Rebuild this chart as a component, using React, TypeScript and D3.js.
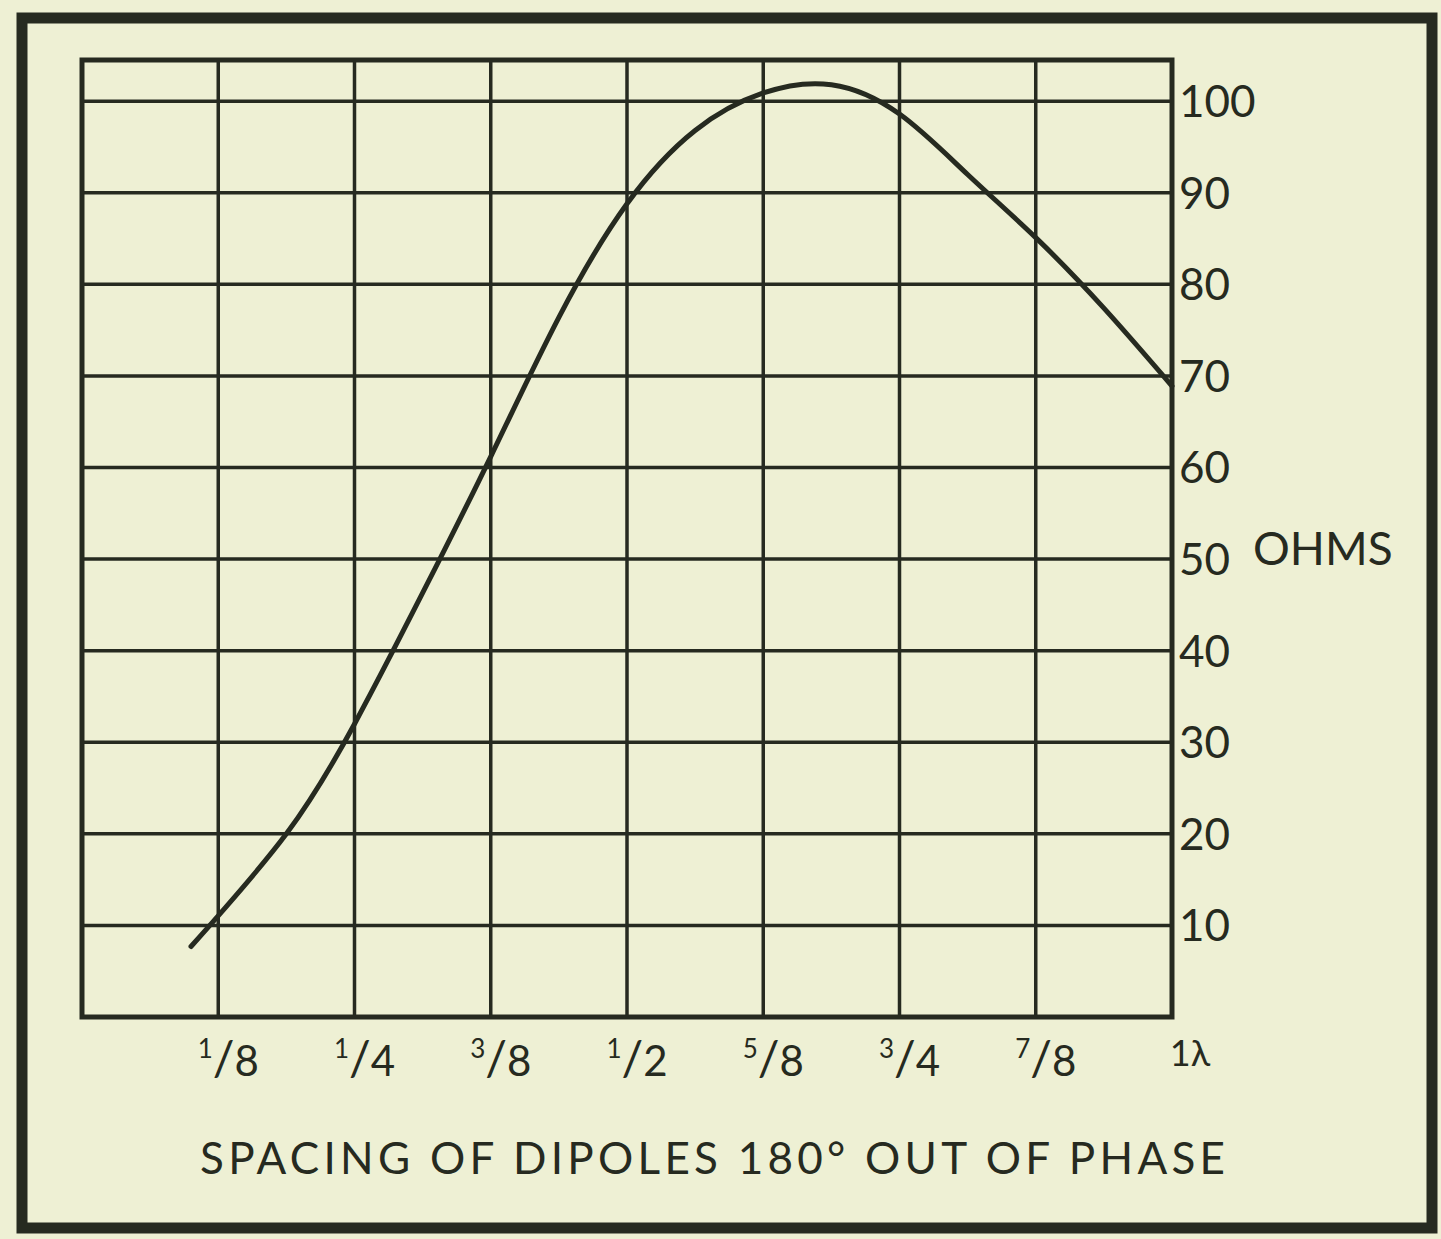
import * as d3 from "d3";
import { useEffect, useRef } from "react";

// spacing in wavelengths vs. radiation resistance in ohms
const spacing = [0.1, 0.1875, 0.25, 0.3125, 0.375, 0.4375, 0.5, 0.5625, 0.625, 0.6875, 0.75, 0.8125, 0.875, 0.9375, 1.0];
const ohms = [7.7, 20.0, 32.0, 46.3, 61.2, 76.4, 88.8, 96.8, 100.9, 101.8, 98.6, 92.0, 85.1, 77.4, 68.9];

const xTicks = [0.125, 0.25, 0.375, 0.5, 0.625, 0.75, 0.875, 1];
const xTickNum = ["1", "1", "3", "1", "5", "3", "7", ""];
const xTickDen = ["8", "4", "8", "2", "8", "4", "8", ""];
const yTicks = [10, 20, 30, 40, 50, 60, 70, 80, 90, 100];

const W = 1441, H = 1239;
const bg = "#eef0d4";
const ink = "#262a20";
const font = "Lato, 'DejaVu Sans', sans-serif";

export default function App() {
    const svgRef = useRef(null);

    useEffect(() => {
        const svg = d3.select(svgRef.current);
        svg.selectAll("*").remove();

        const x = d3.scaleLinear().domain([0, 1]).range([82, 1172]);
        const y = d3.scaleLinear().domain([0, 104.5]).range([1017, 60]);

        svg.append("rect").attr("width", W).attr("height", H).attr("fill", bg);

        // outer frame
        svg.append("rect")
            .attr("x", 22).attr("y", 18)
            .attr("width", 1410).attr("height", 1210)
            .attr("fill", "none").attr("stroke", ink).attr("stroke-width", 11);

        const g = svg.append("g");

        // grid
        g.selectAll(".vgrid").data(xTicks.slice(0, -1)).join("line")
            .attr("x1", d => x(d)).attr("x2", d => x(d))
            .attr("y1", y.range()[1]).attr("y2", y.range()[0])
            .attr("stroke", ink).attr("stroke-width", 3.5);
        g.selectAll(".hgrid").data(yTicks).join("line")
            .attr("x1", x(0)).attr("x2", x(1))
            .attr("y1", d => y(d)).attr("y2", d => y(d))
            .attr("stroke", ink).attr("stroke-width", 3.5);

        // plot border
        g.append("rect")
            .attr("x", x(0)).attr("y", y.range()[1])
            .attr("width", x(1) - x(0)).attr("height", y.range()[0] - y.range()[1])
            .attr("fill", "none").attr("stroke", ink).attr("stroke-width", 5);

        // curve
        const line = d3.line<number>()
            .x((d, i) => x(spacing[i]))
            .y(d => y(d))
            .curve(d3.curveNatural);
        g.append("path")
            .attr("d", line(ohms))
            .attr("fill", "none").attr("stroke", ink).attr("stroke-width", 5)
            .attr("stroke-linecap", "round");

        // y labels on the right
        g.selectAll(".ylab").data(yTicks).join("text")
            .attr("x", x(1) + 7).attr("y", d => y(d))
            .attr("dy", "0.36em")
            .attr("font-family", font).attr("font-size", 44)
            .attr("fill", ink)
            .text(d => String(d));

        g.append("text")
            .attr("x", 1253).attr("y", y(50) - 11)
            .attr("dy", "0.36em")
            .attr("font-family", font).attr("font-size", 46)
            .attr("fill", ink)
            .text("OHMS");

        // x labels as fractions
        xTicks.forEach((t, i) => {
            const txt = g.append("text")
                .attr("x", x(t) + 10).attr("y", 1076)
                .attr("text-anchor", "middle")
                .attr("font-family", font).attr("fill", ink);
            if (xTickNum[i] === "") {
                txt.attr("font-size", 36).attr("y", 1066).attr("x", x(t) + 18).text("1λ");
                return;
            }
            txt.append("tspan").attr("font-size", 26).attr("dy", -18).text(xTickNum[i]);
            txt.append("tspan").attr("font-size", 48).attr("dy", 18).text("/");
            txt.append("tspan").attr("font-size", 42).text(xTickDen[i]);
        });

        // axis title
        svg.append("text")
            .attr("x", 200).attr("y", 1174)
            .attr("font-family", font).attr("font-size", 44)
            .attr("fill", ink)
            .attr("textLength", 1025).attr("lengthAdjust", "spacing")
            .text("SPACING OF DIPOLES 180° OUT OF PHASE");
    }, []);

    return (
        <div style={{ position: "absolute", left: 0, top: 0 }}>
            <svg ref={svgRef} width={W} height={H} style={{ display: "block" }} />
        </div>
    );
}
